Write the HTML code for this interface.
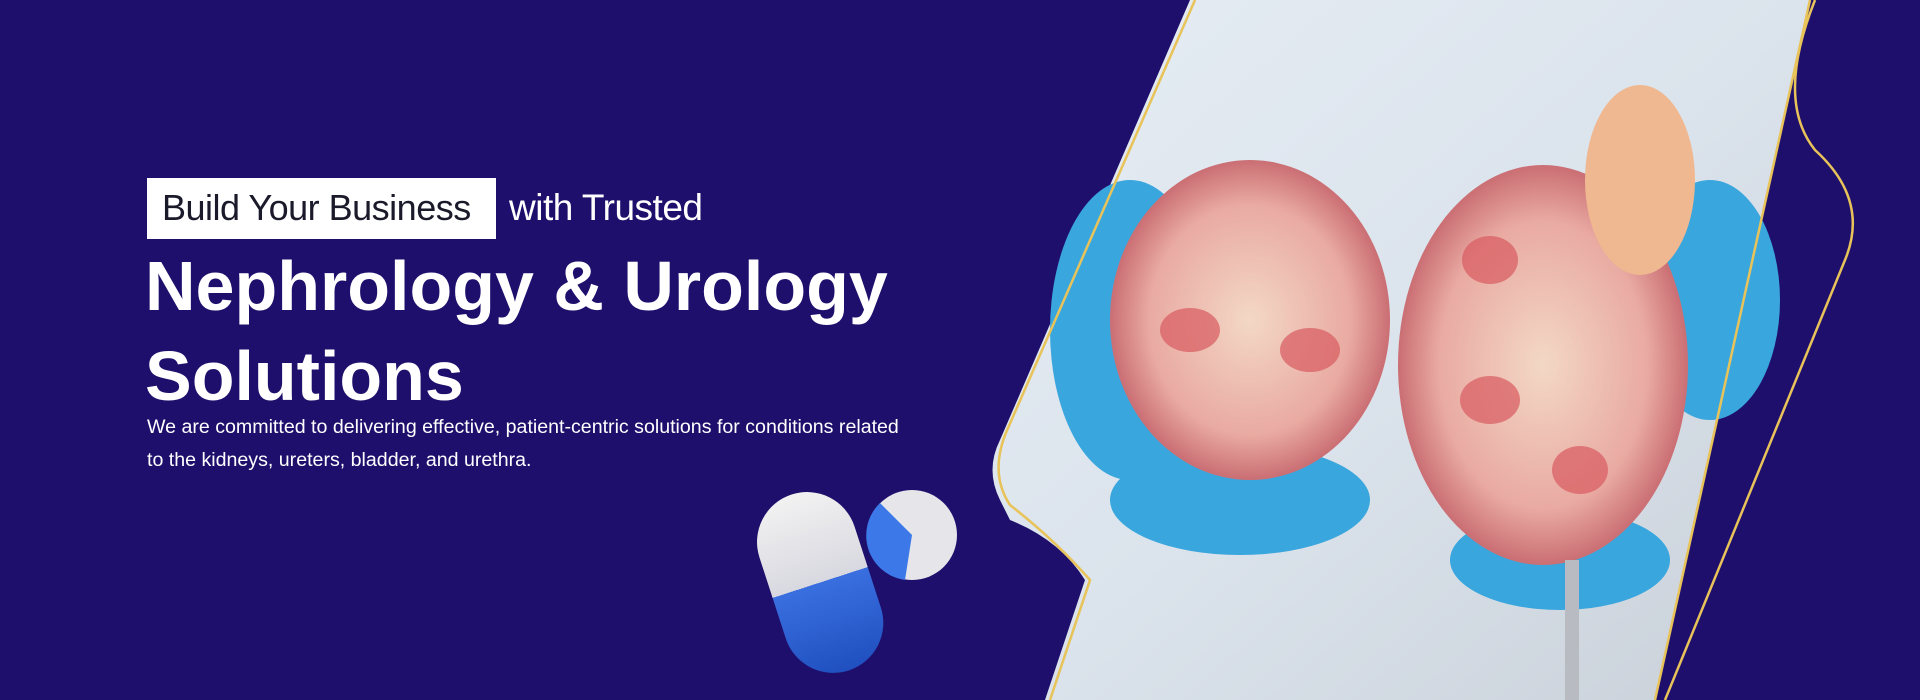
<!DOCTYPE html>
<html><head><meta charset="utf-8"><style>
html,body{margin:0;padding:0}
body{width:1920px;height:700px;overflow:hidden;background:#1f0f6c;position:relative;font-family:"Liberation Sans",sans-serif}
.abs{position:absolute}
</style></head><body>
<svg class="abs" style="left:0;top:0" width="1920" height="700">
<defs>
<linearGradient id="ph" x1="0" y1="0" x2="1" y2="1"><stop offset="0" stop-color="#e6edf4"/><stop offset="0.5" stop-color="#dbe3ec"/><stop offset="1" stop-color="#c9d0d8"/></linearGradient>
<radialGradient id="k1" cx="0.5" cy="0.5" r="0.6"><stop offset="0" stop-color="#f3d8c6"/><stop offset="0.6" stop-color="#e9aaa2"/><stop offset="0.85" stop-color="#c86a70"/><stop offset="1" stop-color="#6a2e40"/></radialGradient>
<linearGradient id="pill" x1="0" y1="0" x2="0" y2="1"><stop offset="0" stop-color="#f2f2f2"/><stop offset="0.5" stop-color="#d8d8e0"/><stop offset="0.5" stop-color="#3a6fe0"/><stop offset="1" stop-color="#2050c0"/></linearGradient>
</defs>
<g>
<path d="M1190,0 L1810,0 L1655,700 L1045,700 L1085,580 Q1060,540 1010,520 L1000,500 Q985,470 1000,440 Z" fill="url(#ph)"/>
<ellipse cx="1130" cy="330" rx="80" ry="150" fill="#3aa6de"/>
<ellipse cx="1240" cy="500" rx="130" ry="55" fill="#3aa6de"/>
<ellipse cx="1710" cy="300" rx="70" ry="120" fill="#3aa6de"/>
<ellipse cx="1560" cy="560" rx="110" ry="50" fill="#3aa6de"/>
<ellipse cx="1250" cy="320" rx="140" ry="160" fill="url(#k1)"/>
<ellipse cx="1543" cy="365" rx="145" ry="200" fill="url(#k1)"/>
<ellipse cx="1190" cy="330" rx="30" ry="22" fill="#d85a60" opacity="0.7"/>
<ellipse cx="1310" cy="350" rx="30" ry="22" fill="#d85a60" opacity="0.7"/>
<ellipse cx="1490" cy="260" rx="28" ry="24" fill="#d85a60" opacity="0.7"/>
<ellipse cx="1490" cy="400" rx="30" ry="24" fill="#d85a60" opacity="0.7"/>
<ellipse cx="1580" cy="470" rx="28" ry="24" fill="#d85a60" opacity="0.7"/>
<ellipse cx="1640" cy="180" rx="55" ry="95" fill="#f0b890"/>
<rect x="1565" y="560" width="14" height="140" fill="#b8bcc2"/>
</g>
<path d="M1195,0 L1005,435 Q990,475 1010,505 Q1055,540 1090,580 L1050,700" fill="none" stroke="#e8c35a" stroke-width="2.5"/>
<path d="M1810,0 L1655,700" fill="none" stroke="#e8c35a" stroke-width="2.5"/>
<path d="M1815,0 Q1775,100 1815,150 Q1870,200 1845,260 L1665,700 L1920,700 L1920,0 Z" fill="#1f0f6c"/>
<path d="M1815,0 Q1775,100 1815,150 Q1870,200 1845,260 L1665,700" fill="none" stroke="#e8c35a" stroke-width="2.5"/>
<g>
<rect x="770" y="490" width="100" height="185" rx="50" fill="url(#pill)" transform="rotate(-18 820 582)"/>
</g>
<g>
<circle cx="912" cy="535" r="45" fill="#e6e6ea"/>
<path d="M912,535 L880,503 A45,45 0 0 0 905,580 Z" fill="#3c78e8"/>
</g>
</svg>
<div class="abs" style="left:147px;top:178px;width:349px;height:61px;background:#fff"></div>
<div class="abs" style="left:162px;top:187px;font-size:36px;color:#1a1a2a;white-space:nowrap;letter-spacing:-0.5px">Build Your Business</div>
<div class="abs" style="left:509px;top:187px;font-size:37px;color:#fff;white-space:nowrap;letter-spacing:-0.5px">with Trusted</div>
<div class="abs" style="left:145px;top:241px;font-size:70px;font-weight:bold;color:#fff;line-height:90px;white-space:nowrap">Nephrology &amp; Urology<br>Solutions</div>
<div class="abs" style="left:147px;top:411px;font-size:19.6px;color:#fff;line-height:33px;white-space:nowrap">We are committed to delivering effective, patient-centric solutions for conditions related<br>to the kidneys, ureters, bladder, and urethra.</div>
</body></html>
